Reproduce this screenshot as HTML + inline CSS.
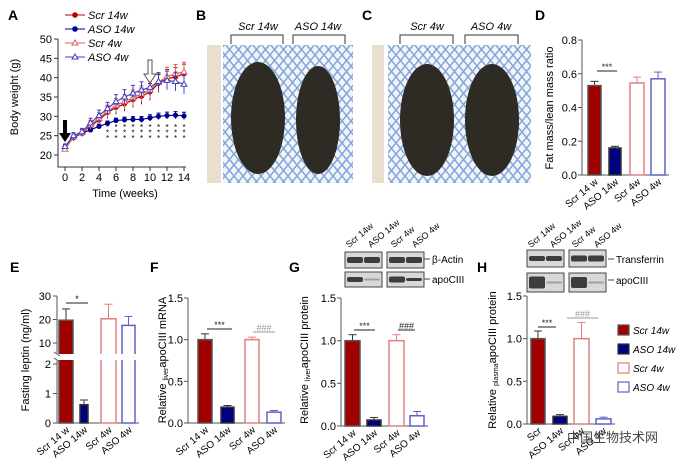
<!DOCTYPE html>
<html><head><meta charset="utf-8"><style>
body{margin:0;background:#fff}
svg{display:block;font-family:"Liberation Sans","Noto Sans CJK SC",sans-serif}
</style></head><body>
<svg id="fig" width="682" height="467" viewBox="0 0 682 467" xmlns="http://www.w3.org/2000/svg">
<defs>
<pattern id="mesh" width="9" height="11" patternUnits="userSpaceOnUse">
<rect width="9" height="11" fill="#f2f4f8"/>
<path d="M0 0 L4.5 5.5 L0 11 M9 0 L4.5 5.5 L9 11" stroke="#7fa6dc" stroke-width="1.5" fill="none"/>
</pattern>
</defs>
<g id="photos">
<text x="196" y="20" font-size="14" font-weight="bold">B</text>
<text x="362" y="20" font-size="14" font-weight="bold">C</text>
<text x="258" y="30" font-size="11" font-style="italic" text-anchor="middle">Scr 14w</text>
<text x="318" y="30" font-size="11" font-style="italic" text-anchor="middle">ASO 14w</text>
<text x="427" y="30" font-size="11" font-style="italic" text-anchor="middle">Scr 4w</text>
<text x="491" y="30" font-size="11" font-style="italic" text-anchor="middle">ASO 4w</text>
<path d="M231 44V35H283V44M293 44V35H345V44M400 44V35H453V44M465 44V35H518V44" stroke="#333" fill="none"/>
<rect x="207" y="45" width="14" height="138" fill="#e8e0cc"/>
<rect x="372" y="45" width="12" height="138" fill="#e8e0cc"/>
<rect x="223" y="45" width="130" height="138" fill="url(#mesh)"/>
<rect x="388" y="45" width="143" height="138" fill="url(#mesh)"/>
<ellipse cx="258" cy="118" rx="27" ry="56" fill="#2e2a24"/>
<ellipse cx="318" cy="120" rx="22" ry="54" fill="#2e2a24"/>
<ellipse cx="427" cy="120" rx="27" ry="56" fill="#2e2a24"/>
<ellipse cx="492" cy="120" rx="27" ry="56" fill="#2e2a24"/>
</g>
</svg>
<script>
const NS="http://www.w3.org/2000/svg";
const svg=document.getElementById('fig');
function el(tag,attrs,parent,text){const e=document.createElementNS(NS,tag);for(const k in attrs)e.setAttribute(k,attrs[k]);if(text!==undefined)e.textContent=text;(parent||svg).appendChild(e);return e;}

// ---- Panel A data ----
const weeks=[0,1,2,3,4,5,6,7,8,9,10,11,12,13,14];
const scr14=[22,24.5,25.7,27.5,29,31,32.3,33.2,34.3,35.2,36.3,38.5,39.7,40.2,41];
const aso14=[22,24.5,25.6,26.5,27.4,28.2,28.9,29.1,29.2,29.2,29.6,30,30.2,30.3,30.1];
const scr4=[21.5,24.7,25.8,27.8,29.5,31.3,32.8,33.8,34.8,35.8,36.8,38.8,40.3,41,41.5];
const aso4=[22.2,25,26,28.3,30.2,32,33.8,35,36,36.8,37.5,39,39.3,39,38.3];
const errA=[0.6,0.8,0.9,1.2,1.4,1.6,1.8,1.9,2.0,2.1,2.2,2.3,2.4,2.4,2.5];
const aTicksY=[20,25,30,35,40,45,50];
const aTicksX=[0,2,4,6,8,10,12,14];
const sigWeeks=[5,6,7,8,9,10,11,12,13,14];

// ---- Bar data ----
const groups=["Scr 14 w","ASO 14w","Scr 4w","ASO 4w"];
const dVals=[0.53,0.16,0.545,0.57], dErr=[0.025,0.01,0.035,0.04];
const eVals=[19.7,0.62,20.3,17.5], eErr=[4.8,0.16,6.2,3.8];
const fVals=[1.0,0.19,1.0,0.13], fErr=[0.07,0.02,0.03,0.02];
const gVals=[1.0,0.07,1.0,0.12], gErr=[0.07,0.03,0.07,0.05];
const hVals=[1.0,0.09,1.0,0.06], hErr=[0.09,0.02,0.19,0.02];
const fillC=["#a00000","#000080","#fff","#fff"];
const strokeC=["#555","#333","#e08080","#6060cc"];

// ---- Panel A ----
const gA=el('g',{});


const ax=v=>65+(v/14)*119, ay=v=>155-(v-20)/30*116;
el('text',{x:8,y:20,'font-size':14,'font-weight':'bold'},gA,'A');
el('path',{d:`M58 ${ay(50)}V${ay(20)+12}H186`,stroke:'#333',fill:'none'},gA);
aTicksY.forEach(t=>{el('line',{x1:54,x2:58,y1:ay(t),y2:ay(t),stroke:'#333'},gA);el('text',{x:52,y:ay(t)+4,'font-size':11,'text-anchor':'end'},gA,t);});
aTicksX.forEach(t=>{el('line',{x1:ax(t),x2:ax(t),y1:ay(20)+12,y2:ay(20)+16,stroke:'#333'},gA);el('text',{x:ax(t),y:ay(20)+26,'font-size':11,'text-anchor':'middle'},gA,t);});
const ylA=el('text',{x:0,y:0,'font-size':11,'text-anchor':'middle',transform:`translate(18,${ay(35)}) rotate(-90)`},gA,'Body weight (g)');


el('text',{x:125,y:197,'font-size':11,'text-anchor':'middle'},gA,'Time (weeks)');
const seriesA=[[scr14,'#c00000',true,false,'Scr 14w'],[aso14,'#000090',true,false,'ASO 14w'],[scr4,'#e06060',false,true,'Scr 4w'],[aso4,'#4040c0',false,true,'ASO 4w']];
seriesA.forEach((s,si)=>{
  const [vals,col,filled,tri,name]=s;
  const g=el('g',{},gA);
  
  
  el('polyline',{points:weeks.map((w,i)=>ax(w)+','+ay(vals[i])).join(' '),stroke:col,fill:'none','stroke-width':1.2},g);
  weeks.forEach((w,i)=>{
    const e=(si==1?0.4+i*0.04:errA[i]);
    el('path',{d:`M${ax(w)} ${ay(vals[i]-e)}V${ay(vals[i]+e)}M${ax(w)-2} ${ay(vals[i]+e)}h4`,stroke:col,'stroke-width':1},g);
    if(tri) el('path',{d:`M${ax(w)} ${ay(vals[i])-3}l3 5h-6z`,fill:'#fff',stroke:col},g);
    else el('circle',{cx:ax(w),cy:ay(vals[i]),r:2.6,fill:col},g);
  });
  const ly=15+si*14;
  el('line',{x1:65,x2:85,y1:ly,y2:ly,stroke:col},gA);
  if(tri) el('path',{d:`M75 ${ly-3}l3 5h-6z`,fill:'#fff',stroke:col},gA); else el('circle',{cx:75,cy:ly,r:2.8,fill:col},gA);
  el('text',{x:88,y:ly+4,'font-size':11,'font-style':'italic'},gA,name);
});
sigWeeks.forEach(w=>{[0,1,2].forEach(k=>el('text',{x:ax(w),y:ay(26.5)+k*5.5,'font-size':8,'text-anchor':'middle'},gA,'*'));});
el('path',{d:'M63 120v13h-4l6 9 6-9h-4v-13z',fill:'#000'},gA);
el('path',{d:'M148 60v14h-4l6 9 6-9h-4v-14z',fill:'#fff',stroke:'#555'},gA);

// ---- Generic bar chart ----
function barChart(o){
  const g=el('g',{});
  
  
  el('text',{x:o.lx,y:o.ly,'font-size':14,'font-weight':'bold'},g,o.label);
  const y=o.y;
  el('path',{d:`M${o.axX} ${o.top}V${o.base}H${o.bars[3][1]+4}`,stroke:'#555',fill:'none'},g);
  o.ticks.forEach(t=>{const yy=y(t);el('line',{x1:o.axX-4,x2:o.axX,y1:yy,y2:yy,stroke:'#555'},g);el('text',{x:o.axX-5,y:yy+4,'font-size':11,'text-anchor':'end'},g,o.fmt(t));});
  o.vals.forEach((v,i)=>{
    const [x0,x1]=o.bars[i],yv=y(v),ye=y(v+o.err[i]),cx=(x0+x1)/2;
    const c=strokeC[i]==='#555'?'#333':strokeC[i];
    el('line',{x1:cx,x2:cx,y1:yv,y2:ye,stroke:c},g);
    el('line',{x1:cx-4,x2:cx+4,y1:ye,y2:ye,stroke:c},g);
    const b=el('rect',{x:x0,y:yv,width:x1-x0,height:o.base-yv,fill:fillC[i],stroke:strokeC[i],'stroke-width':1.5},g);
    
    
    if(o.xlabels){el('text',{'font-size':10,'text-anchor':'end',transform:`translate(${cx+4},${o.base+8}) rotate(-40)`},g,groups[i]);}
  });
  const yt=el('text',{'font-size':11,'text-anchor':'middle',transform:`translate(${o.tx},${o.ty}) rotate(-90)`},g);
  
  
  o.title.forEach(p=>{el('tspan',p[1]?{'font-size':7,dy:2}:{dy:p[2]||0},yt,p[0]);});
  if(o.sig){o.sig.forEach(s=>{el('line',{x1:s[0],x2:s[1],y1:s[2],y2:s[2],stroke:s[4]||'#222'},g);el('text',{x:(s[0]+s[1])/2,y:s[2]-1,'font-size':9,'text-anchor':'middle',fill:s[4]||'#222'},g,s[3]);});}
  return g;
}
barChart({name:'panel-d-fat-ratio',label:'D',lx:535,ly:20,axX:582,top:40,base:175,y:v=>175-v/0.8*135,ticks:[0,0.2,0.4,0.6,0.8],fmt:t=>t.toFixed(1),
  vals:dVals,err:dErr,bars:[[588,601],[609,621],[630,644],[651,665]],xlabels:true,title:[['Fat mass/lean mass ratio']],tx:553,ty:108,sig:[[597,617,71,'***']]});
barChart({name:'panel-f-mrna',label:'F',lx:150,ly:272,axX:188,top:298,base:423,y:v=>423-v/1.5*125,ticks:[0,0.5,1.0,1.5],fmt:t=>t.toFixed(1),
  vals:fVals,err:fErr,bars:[[198,212],[221,234],[245,259],[267,281]],xlabels:true,title:[['Relative '],['liver',1],['apoCIII mRNA',0,-2]],tx:166,ty:360,sig:[[207,232,329,'***'],[253,275,332,'###','#999']]});
barChart({name:'panel-g-liver-protein',label:'G',lx:289,ly:272,axX:341,top:298,base:426,y:v=>426-v/1.5*128,ticks:[0,0.5,1.0,1.5],fmt:t=>t.toFixed(1),
  vals:gVals,err:gErr,bars:[[345,360],[367,381],[389,404],[410,424]],xlabels:true,title:[['Relative '],['liver',1],['apoCIII protein',0,-2]],tx:308,ty:360,sig:[[354,375,330,'***'],[398,415,330,'###']]});
barChart({name:'panel-h-plasma-protein',label:'H',lx:477,ly:272,axX:527,top:296,base:424,y:v=>424-v/1.5*128,ticks:[0,0.5,1.0,1.5],fmt:t=>t.toFixed(1),
  vals:hVals,err:hErr,bars:[[531,545],[553,567],[574,589],[596,611]],xlabels:false,title:[['Relative '],['plasma',1],['apoCIII protein',0,-2]],tx:496,ty:360,sig:[[538,556,327,'***'],[567,598,318,'###','#999']]});
(function(){
  const g=el('g',{});
  
  
  el('text',{x:10,y:272,'font-size':14,'font-weight':'bold'},g,'E');
  const yTop=v=>343-(v-10)/20*47, yBot=v=>423-v/2*59;
  const y=v=>v>2?yTop(Math.max(v,10)):yBot(v);
  el('path',{d:'M57 296V353M57 361V423H139',stroke:'#555',fill:'none'},g);
  [10,20,30].forEach(t=>{el('line',{x1:53,x2:57,y1:yTop(t),y2:yTop(t),stroke:'#555'},g);el('text',{x:51,y:yTop(t)+4,'font-size':11,'text-anchor':'end'},g,t);});
  [0,1,2].forEach(t=>{el('line',{x1:53,x2:57,y1:yBot(t),y2:yBot(t),stroke:'#555'},g);el('text',{x:51,y:yBot(t)+4,'font-size':11,'text-anchor':'end'},g,t);});
  const bx=[[59,73],[80,88],[101,116],[122,135]];
  eVals.forEach((v,i)=>{
    const [x0,x1]=bx[i],cx=(x0+x1)/2,yv=y(v),ye=y(v+eErr[i]);
    const c=strokeC[i]==='#555'?'#333':strokeC[i];
    el('line',{x1:cx,x2:cx,y1:yv,y2:ye,stroke:c},g);el('line',{x1:cx-4,x2:cx+4,y1:ye,y2:ye,stroke:c},g);
    const b=el('rect',{x:x0,y:yv,width:x1-x0,height:423-yv,fill:fillC[i],stroke:strokeC[i],'stroke-width':1.5},g);
    
    
    el('text',{'font-size':10,'text-anchor':'end',transform:`translate(${cx+4},${431}) rotate(-40)`},g,groups[i]);
  });
  el('rect',{x:50,y:354,width:90,height:6,fill:'#fff'},g);
  el('line',{x1:54,x2:60,y1:352,y2:356,stroke:'#555'},g);el('line',{x1:54,x2:60,y1:358,y2:362,stroke:'#555'},g);
  el('line',{x1:66,x2:88,y1:303,y2:303,stroke:'#222'},g);el('text',{x:77,y:302,'font-size':9,'text-anchor':'middle'},g,'*');
  const yt=el('text',{'font-size':11,'text-anchor':'middle',transform:'translate(29,360) rotate(-90)'},g,'Fasting leptin (ng/ml)');
  
  
})();
function blot(x1,x2,y,h,bands,name){
  const g=el('g',{});
  
  
  [[x1,x1+37],[x2,x2+37]].forEach((r,k)=>{
    el('rect',{x:r[0],y:y,width:37,height:h,fill:'#d8d8d8',stroke:'#444'},g);
    [0,1].forEach(j=>{const b=bands[k*2+j];el('rect',{x:r[0]+2+j*17,y:y+h/2-b/2,width:16,height:b,rx:2,fill:'#222','fill-opacity':b>2?0.85:0.3},g);});
  });
  return g;
}
blot(345,387,252,16,[6,6,6,6],'blot-g-actin');blot(345,387,272,15,[5,2,6,3],'blot-g-apociii');
blot(527,569,250,17,[5,5,6,6],'blot-h-transferrin');blot(527,569,273,19,[12,2,11,2],'blot-h-apociii');
[['β-Actin',432,263],['apoCIII',432,283],['Transferrin',616,263],['apoCIII',616,284]].forEach(t=>{el('line',{x1:t[1]-8,x2:t[1]-2,y1:t[2]-4,y2:t[2]-4,stroke:'#444'});el('text',{x:t[1],y:t[2],'font-size':10},svg,t[0]);});
[[345,'Scr 14w'],[367,'ASO 14w'],[390,'Scr 4w'],[411,'ASO 4w'],[527,'Scr 14w'],[549,'ASO 14w'],[571,'Scr 4w'],[593,'ASO 4w']].forEach(l=>el('text',{'font-size':9,transform:`translate(${l[0]+4},248) rotate(-40)`},svg,l[1]));
[[538,'Scr'],[560,'ASO 14w'],[581,'Scr 4w'],[603,'ASO 4w']].forEach(l=>el('text',{'font-size':10,'text-anchor':'end',transform:`translate(${l[0]+4},432) rotate(-40)`},svg,l[1]));
const legNames=['Scr 14w','ASO 14w','Scr 4w','ASO 4w'];
legNames.forEach((n,i)=>{
  const yy=334+i*19;
  const r=el('rect',{x:618,y:yy-9,width:11,height:10,fill:fillC[i],stroke:strokeC[i],'stroke-width':1.2});
  
  
  el('text',{x:633,y:yy,'font-size':10,'font-style':'italic'},svg,n);
});
const wm=el('text',{x:567,y:442,'font-size':13,fill:'#444'},svg,'中国生物技术网');


</script>
</body></html>
